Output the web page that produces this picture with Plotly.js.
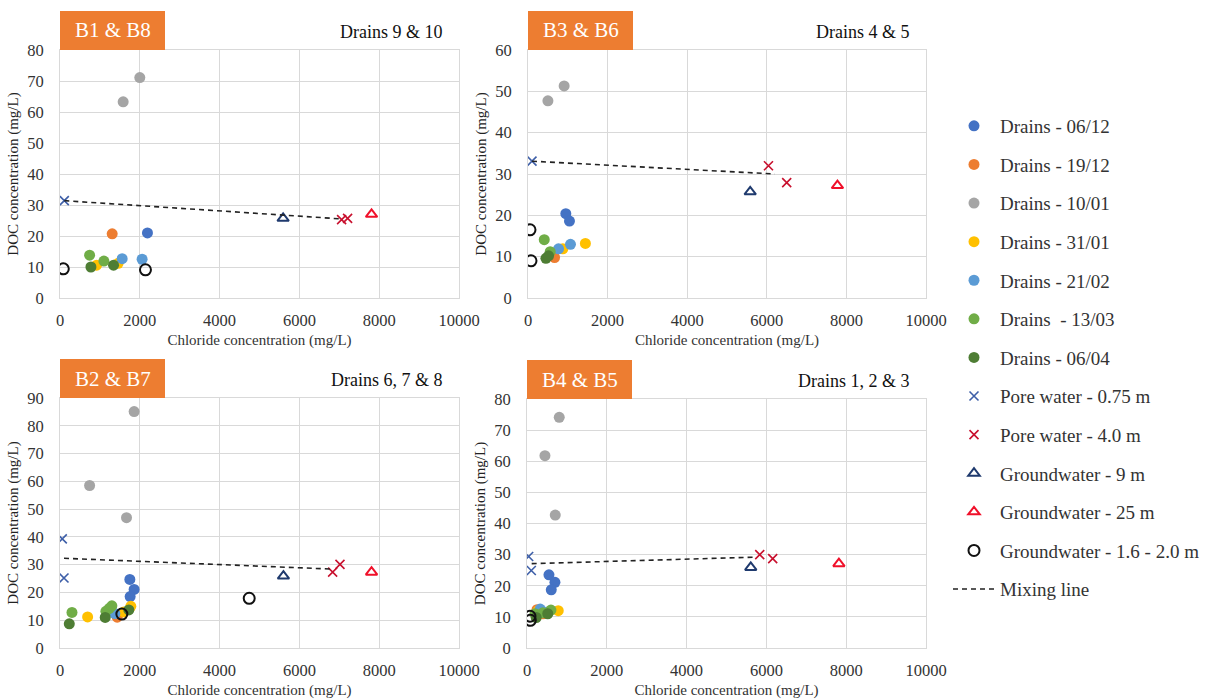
<!DOCTYPE html>
<html>
<head>
<meta charset="utf-8">
<script src="https://cdn.plot.ly/plotly-3.0.1.min.js"></script>
<style>html,body{margin:0;padding:0;background:#fff;}#chart{width:1210px;height:699px;}</style>
</head>
<body>
<div id="chart"></div>
<script>
// ---------------- DATA ----------------
// Each array: list of [chloride (mg/L), DOC (mg/L)] points
// Panel 1: B1 & B8 (Drains 9 & 10)
const P1_D0612 = [[2192, 21.0]];
const P1_D1912 = [[1308, 20.7]];
const P1_D1001 = [[2000, 71.1], [1583, 63.3]];
const P1_D3101 = [[917, 10.6], [1458, 11.2]];
const P1_D2102 = [[1558, 12.7], [2058, 12.5]];
const P1_D1303 = [[742, 13.8], [1100, 11.9]];
const P1_D0604 = [[775, 10.0], [1342, 10.6]];
const P1_PW075 = [[108, 31.4]];
const P1_PW40  = [[7058, 25.3], [7208, 25.7]];
const P1_GW9   = [[5592, 25.7]];
const P1_GW25  = [[7808, 27.0]];
const P1_GW16  = [[83, 9.4], [2142, 9.1]];
const P1_MIX   = [[108, 31.4], [7058, 25.5]];

// Panel 2: B3 & B6 (Drains 4 & 5)
const P2_D0612 = [[950, 20.4], [1042, 18.6]];
const P2_D1912 = [[667, 9.8]];
const P2_D1001 = [[500, 47.7], [908, 51.3]];
const P2_D3101 = [[875, 11.9], [1442, 13.2]];
const P2_D2102 = [[767, 11.9], [1067, 13.0]];
const P2_D1303 = [[408, 14.1], [558, 11.2]];
const P2_D0604 = [[450, 9.6], [517, 10.2]];
const P2_PW075 = [[100, 33.1]];
const P2_PW40  = [[6042, 32.0], [6500, 27.9]];
const P2_GW9   = [[5583, 25.7]];
const P2_GW25  = [[7775, 27.2]];
const P2_GW16  = [[50, 16.5], [75, 9.0]];
const P2_MIX   = [[100, 33.1], [6200, 30.0]];

// Panel 3: B2 & B7 (Drains 6, 7 & 8)
const P3_D0612 = [[1750, 24.7], [1858, 21.1], [1758, 18.5]];
const P3_D1912 = [[1433, 11.1]];
const P3_D1001 = [[1858, 85.1], [742, 58.5], [1667, 46.9]];
const P3_D3101 = [[692, 11.2], [1600, 13.0], [1775, 15.0]];
const P3_D2102 = [[1375, 12.4]];
const P3_D1303 = [[300, 12.8], [1150, 13.2], [1230, 14.2], [1300, 15.2]];
const P3_D0604 = [[233, 8.7], [1133, 11.0], [1725, 13.7]];
const P3_PW075 = [[58, 39.3], [100, 25.2]];
const P3_PW40  = [[6833, 27.3], [7017, 30.1]];
const P3_GW9   = [[5600, 25.9]];
const P3_GW25  = [[7808, 27.3]];
const P3_GW16  = [[1550, 12.2], [4742, 17.9]];
const P3_MIX   = [[100, 32.3], [6833, 28.4]];

// Panel 4: B4 & B5 (Drains 1, 2 & 3)
const P4_D0612 = [[550, 23.5], [700, 21.1], [608, 18.7]];
const P4_D1912 = [[250, 12.3], [400, 11.0]];
const P4_D1001 = [[808, 74.1], [450, 61.8], [708, 42.7]];
const P4_D3101 = [[280, 12.0], [783, 12.0]];
const P4_D2102 = [[330, 12.5], [450, 11.5]];
const P4_D1303 = [[200, 11.0], [400, 11.3], [600, 12.2]];
const P4_D0604 = [[230, 9.8], [520, 11.0]];
const P4_PW075 = [[42, 29.4], [108, 24.9]];
const P4_PW40  = [[5833, 30.0], [6158, 28.7]];
const P4_GW9   = [[5608, 25.9]];
const P4_GW25  = [[7817, 27.1]];
const P4_GW16  = [[75, 10.2], [83, 8.9]];
const P4_MIX   = [[117, 27.1], [5750, 29.2]];

const SERIES_NAMES = ['Drains - 06/12', 'Drains - 19/12', 'Drains - 10/01', 'Drains - 31/01',
  'Drains - 21/02', 'Drains  - 13/03', 'Drains - 06/04', 'Pore water - 0.75 m', 'Pore water - 4.0 m',
  'Groundwater - 9 m', 'Groundwater - 25 m', 'Groundwater - 1.6 - 2.0 m', 'Mixing line'];

const PANEL_DATA = [
  [P1_D0612, P1_D1912, P1_D1001, P1_D3101, P1_D2102, P1_D1303, P1_D0604, P1_PW075, P1_PW40, P1_GW9, P1_GW25, P1_GW16, P1_MIX],
  [P2_D0612, P2_D1912, P2_D1001, P2_D3101, P2_D2102, P2_D1303, P2_D0604, P2_PW075, P2_PW40, P2_GW9, P2_GW25, P2_GW16, P2_MIX],
  [P3_D0612, P3_D1912, P3_D1001, P3_D3101, P3_D2102, P3_D1303, P3_D0604, P3_PW075, P3_PW40, P3_GW9, P3_GW25, P3_GW16, P3_MIX],
  [P4_D0612, P4_D1912, P4_D1001, P4_D3101, P4_D2102, P4_D1303, P4_D0604, P4_PW075, P4_PW40, P4_GW9, P4_GW25, P4_GW16, P4_MIX]
];
const PANEL_LABELS = ['B1 & B8', 'B3 & B6', 'B2 & B7', 'B4 & B5'];
const PANEL_TITLES = ['Drains 9 & 10', 'Drains 4 & 5', 'Drains 6, 7 & 8', 'Drains 1, 2 & 3'];
const PANEL_YMAX = [80, 60, 90, 80];
const X_MAX = 10000;
const X_TITLE = 'Chloride concentration (mg/L)';
const Y_TITLE = 'DOC concentration (mg/L)';

// ---------------- STYLE ----------------
const FONT = 'Liberation Serif, Times New Roman, serif';
const W = 1210, H = 699;
const px = v => v / W;
const py = v => 1 - v / H;

const STYLES = [
  {mode: 'markers', marker: {symbol: 'circle', size: 11, color: '#4472C4'}},
  {mode: 'markers', marker: {symbol: 'circle', size: 11, color: '#ED7D31'}},
  {mode: 'markers', marker: {symbol: 'circle', size: 11, color: '#A5A5A5'}},
  {mode: 'markers', marker: {symbol: 'circle', size: 11, color: '#FFC000'}},
  {mode: 'markers', marker: {symbol: 'circle', size: 11, color: '#5B9BD5'}},
  {mode: 'markers', marker: {symbol: 'circle', size: 11, color: '#70AD47'}},
  {mode: 'markers', marker: {symbol: 'circle', size: 11, color: '#4E7D34'}},
  {mode: 'markers', marker: {symbol: 'x-thin-open', size: 9, color: '#3E5FA8', line: {color: '#3E5FA8', width: 1.6}}},
  {mode: 'markers', marker: {symbol: 'x-thin-open', size: 9, color: '#C8102E', line: {color: '#C8102E', width: 1.6}}},
  {mode: 'markers', marker: {symbol: 'triangle-up-open', size: 10, color: '#1F3A6E', line: {color: '#1F3A6E', width: 2}}},
  {mode: 'markers', marker: {symbol: 'triangle-up-open', size: 10, color: '#F0102A', line: {color: '#F0102A', width: 2}}},
  {mode: 'markers', marker: {symbol: 'circle-open', size: 11, color: '#111111', line: {color: '#111111', width: 2}}},
  {mode: 'lines', line: {color: '#222222', width: 1.6, dash: '5px,4px'}}
];

// plot area pixel boxes [left, top, right, bottom]
const BOXES = [[60, 50, 459, 298], [528, 50, 926, 298], [60, 398, 459, 648], [527, 399, 926, 648]];

const traces = [];
PANEL_DATA.forEach((series, p) => {
  const ax = p === 0 ? '' : String(p + 1);
  series.forEach((pts, s) => {
    const st = JSON.parse(JSON.stringify(STYLES[s]));
    traces.push(Object.assign(st, {
      type: 'scatter',
      x: pts.map(d => d[0]),
      y: pts.map(d => d[1]),
      name: SERIES_NAMES[s],
      legendgroup: 'g' + s,
      showlegend: p === 0,
      xaxis: 'x' + ax,
      yaxis: 'y' + ax,
      hoverinfo: 'x+y+name'
    }));
  });
});

const layout = {
  width: W, height: H,
  margin: {l: 0, r: 0, t: 0, b: 0},
  paper_bgcolor: '#ffffff', plot_bgcolor: '#ffffff',
  font: {family: FONT, color: '#333333'},
  showlegend: true,
  legend: {
    x: px(948), y: py(107), xanchor: 'left', yanchor: 'top',
    font: {family: FONT, size: 19, color: '#333333'},
    traceorder: 'grouped', tracegroupgap: 10.9,
    bgcolor: 'rgba(0,0,0,0)', itemwidth: 42
  },
  shapes: [], annotations: []
};

BOXES.forEach((b, p) => {
  const ax = p === 0 ? '' : String(p + 1);
  const common = {
    showgrid: true, gridcolor: '#D9D9D9', gridwidth: 1,
    zeroline: false, showline: true, mirror: true, linecolor: '#D9D9D9', linewidth: 1,
    ticks: 'outside', ticklen: 7, tickcolor: 'rgba(0,0,0,0)',
    tickfont: {family: FONT, size: 16.5, color: '#333333'},
    tickformat: 'd', exponentformat: 'none', separatethousands: false,
    fixedrange: true
  };
  layout['xaxis' + ax] = Object.assign({}, common, {
    domain: [px(b[0]), px(b[2])], anchor: 'y' + ax,
    range: [0, X_MAX], dtick: 2000, tick0: 0,
    title: {text: X_TITLE, font: {family: FONT, size: 15, color: '#333333'}, standoff: 5}
  });
  layout['yaxis' + ax] = Object.assign({}, common, {
    domain: [py(b[3]), py(b[1])], anchor: 'x' + ax,
    range: [0, PANEL_YMAX[p]], dtick: 10, tick0: 0, ticklen: 12,
    title: {text: Y_TITLE, font: {family: FONT, size: 15, color: '#222222'}, standoff: 4}
  });
  // orange label box
  layout.shapes.push({
    type: 'rect', xref: 'paper', yref: 'paper',
    x0: px(b[0]), x1: px(b[0] + 105), y0: py(b[1]), y1: py(b[1] - 39),
    fillcolor: '#ED7D31', line: {width: 0}, layer: 'above'
  });
  layout.annotations.push({
    xref: 'paper', yref: 'paper', x: px(b[0] + 52.5), y: py(b[1] - 19.5),
    text: PANEL_LABELS[p], showarrow: false, xanchor: 'center', yanchor: 'middle',
    font: {family: FONT, size: 21, color: '#ffffff'}
  });
  layout.annotations.push({
    xref: 'paper', yref: 'paper', x: px(b[2] - 14), y: py(b[1] - 18),
    text: PANEL_TITLES[p], showarrow: false, xanchor: 'right', yanchor: 'middle',
    font: {family: FONT, size: 18, color: '#111111'}
  });
});

Plotly.newPlot('chart', traces, layout, {displayModeBar: false, staticPlot: true});
</script>
</body>
</html>
